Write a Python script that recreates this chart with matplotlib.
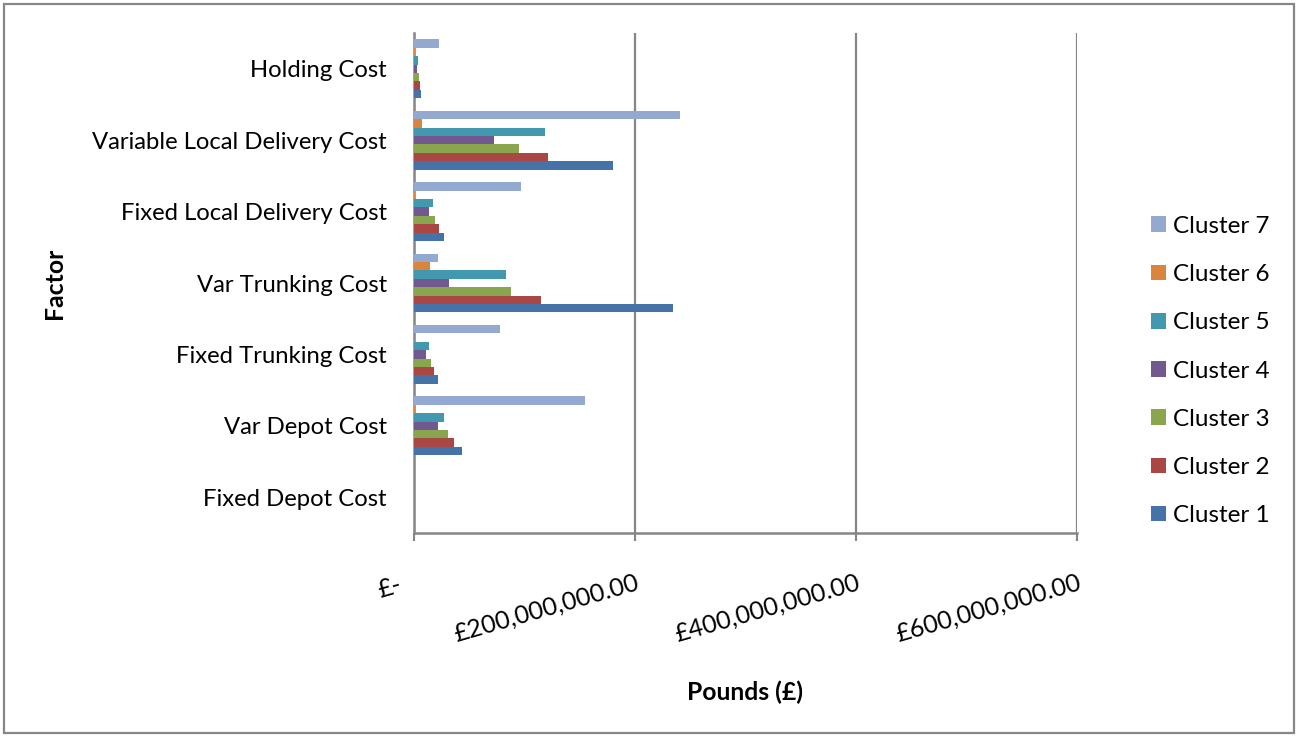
import matplotlib
matplotlib.use("Agg")
import matplotlib.pyplot as plt
import matplotlib.transforms as mtransforms
from matplotlib.patches import Rectangle
from matplotlib.ticker import FixedLocator, FixedFormatter
import numpy as np

plt.rcParams['font.family'] = ['Lato', 'DejaVu Sans']

# Cost factors, bottom to top
factors = ["Fixed Depot Cost", "Var Depot Cost", "Fixed Trunking Cost",
           "Var Trunking Cost", "Fixed Local Delivery Cost",
           "Variable Local Delivery Cost", "Holding Cost"]

# Costs per cluster in pounds, same order as factors
cluster_1 = [0, 43.7e6, 22.0e6, 234.0e6, 27.4e6, 180.0e6, 6.6e6]
cluster_2 = [0, 36.5e6, 18.1e6, 115.0e6, 22.9e6, 121.0e6, 5.4e6]
cluster_3 = [0, 30.8e6, 15.4e6, 87.8e6, 19.3e6, 94.7e6, 4.5e6]
cluster_4 = [0, 21.7e6, 10.9e6, 31.7e6, 13.6e6, 72.0e6, 3.0e6]
cluster_5 = [0, 27.4e6, 13.9e6, 83.0e6, 17.2e6, 118.8e6, 3.9e6]
cluster_6 = [0, 1.0e6, 0.3e6, 14.5e6, 1.0e6, 7.2e6, 0.5e6]
cluster_7 = [0, 155.0e6, 77.8e6, 22.0e6, 96.8e6, 240.7e6, 22.3e6]

series_names = ["Cluster 1", "Cluster 2", "Cluster 3", "Cluster 4",
                "Cluster 5", "Cluster 6", "Cluster 7"]
series = [cluster_1, cluster_2, cluster_3, cluster_4,
          cluster_5, cluster_6, cluster_7]
colors = ["#4572A7", "#AA4643", "#89A54E", "#71588F",
          "#4198AF", "#DB843D", "#93A9CF"]

x_ticks = [0, 200e6, 400e6, 600e6]
x_tick_labels = ["£-", "£200,000,000.00", "£400,000,000.00", "£600,000,000.00"]

W, H = 1299, 737
fig = plt.figure(figsize=(W / 100, H / 100), dpi=100)
ax = fig.add_axes([414 / W, 1 - 533 / H, (1077 - 414) / W, (533 - 33) / H])

grid_col = "#868686"
n = len(series)
h = 1 / (n + 1.5)
y = np.arange(len(factors))

for i, (vals, name, col) in enumerate(zip(series, series_names, colors)):
    ax.barh(y + (i - (n - 1) / 2) * h, vals, height=h, color=col,
            linewidth=0, label=name, zorder=3)

ax.set_ylim(-0.5, len(factors) - 0.5)
ax.set_xlim(0, 600e6)
ax.set_yticks(y)
ax.set_yticklabels(factors, fontsize=17.2)
ax.tick_params(axis="y", length=0, pad=19.5)

ax.xaxis.set_major_locator(FixedLocator(x_ticks))
ax.xaxis.set_major_formatter(FixedFormatter(x_tick_labels))
ax.tick_params(axis="x", length=6, width=1.5, color=grid_col, pad=21,
               labelsize=18)
for lab in ax.get_xticklabels():
    lab.set_rotation(16)
    lab.set_ha("right")
    lab.set_va("top")
    lab.set_rotation_mode("anchor")
first = ax.get_xticklabels()[0]
first.set_transform(first.get_transform()
                    + mtransforms.ScaledTranslation(-16 / 100, -3 / 100,
                                                    fig.dpi_scale_trans))

ax.grid(axis="x", color=grid_col, linewidth=1.6, zorder=0)
for s in ["top", "right"]:
    ax.spines[s].set_visible(False)
for s in ["left", "bottom"]:
    ax.spines[s].set_color(grid_col)
    ax.spines[s].set_linewidth(1.8)

fig.text(55 / W, 1 - 283 / H, "Factor", rotation=90, ha="center",
         va="center", fontsize=17.8, fontweight="bold")
fig.text(745 / W, 1 - 692 / H, "Pounds (£)", ha="center", va="center",
         fontsize=17.8, fontweight="bold")

handles, labels = ax.get_legend_handles_labels()
leg = fig.legend(handles[::-1], labels[::-1], loc="center left",
                 bbox_to_anchor=(1129 / W, 1 - 371 / H), frameon=False,
                 fontsize=17.5, handlelength=0.62, handleheight=0.62,
                 handletextpad=0.3, labelspacing=1.12)
for p in leg.get_patches():
    p.set_edgecolor("none")

fig.patches.append(Rectangle((4 / W, 4 / H), 1 - 9 / W, 1 - 8 / H,
                             transform=fig.transFigure, fill=False,
                             edgecolor="#878787", linewidth=1.6))

fig.savefig("out.png", dpi=100)
